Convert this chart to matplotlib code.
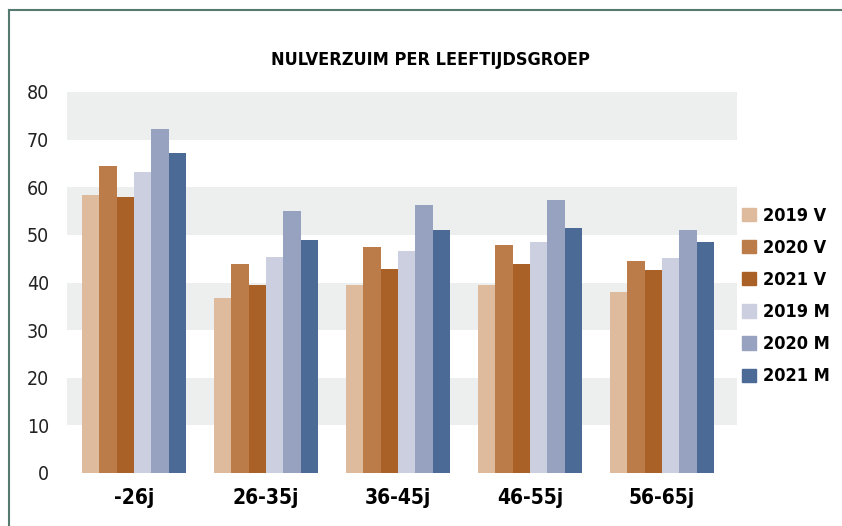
import numpy as np
import matplotlib
matplotlib.use("Agg")
import matplotlib.pyplot as plt
from matplotlib.lines import Line2D
from matplotlib.patches import Patch

# data
groups = ["-26j", "26-35j", "36-45j", "46-55j", "56-65j"]
series = ["2019 V", "2020 V", "2021 V", "2019 M", "2020 M", "2021 M"]
v2019 = [58.4, 36.8, 39.5, 39.5, 38.0]
v2020 = [64.5, 43.9, 47.5, 47.9, 44.5]
v2021 = [58.0, 39.5, 42.9, 43.9, 42.6]
m2019 = [63.2, 45.4, 46.6, 48.5, 45.2]
m2020 = [72.3, 55.0, 56.3, 57.4, 51.1]
m2021 = [67.2, 48.9, 51.1, 51.5, 48.5]
colors = ["#dfbb9d", "#bc7c4a", "#aa6127", "#cccfe0", "#97a1c0", "#4c6a96"]

plt.rcParams['font.family'] = ['DejaVu Sans']

fig = plt.figure(figsize=(8.42, 5.26), dpi=100)
ax = fig.add_axes([67/842, 53/526, 670/842, 381/526])

# grey bands
for lo in [10, 30, 50, 70]:
    ax.axhspan(lo, lo + 10, color="#edefee", zorder=0, lw=0)

x = np.arange(len(groups))
w = 0.1313
data = [v2019, v2020, v2021, m2019, m2020, m2021]
for i, vals in enumerate(data):
    ax.bar(x + (i - 2.5) * w, vals, w, color=colors[i], zorder=2, linewidth=0)

ax.set_xlim(-0.508, 4.568)
ax.set_ylim(0, 80)
ax.set_yticks(range(0, 81, 10))
ax.set_xticks(x)
ax.set_xticklabels(groups, fontsize=15, fontweight="bold", fontstretch="condensed")
ax.tick_params(axis="x", length=0, pad=11)
ax.tick_params(axis="y", length=0, pad=13, labelsize=14, labelcolor="#222222")
for lab in ax.get_yticklabels():
    lab.set_fontstretch("condensed")
for s in ax.spines.values():
    s.set_visible(False)

fig.text(0.511, 0.886, "NULVERZUIM PER LEEFTIJDSGROEP", ha="center", va="center",
         fontsize=13, fontweight="bold", fontstretch="condensed")

handles = [Patch(color=c) for c in colors]
fig.legend(handles, series, loc="upper left", bbox_to_anchor=(742/842, 1 - 207/526),
           frameon=False, prop={"weight": "bold", "size": 13, "stretch": "condensed"},
           handlelength=0.75, handleheight=0.75, handletextpad=0.4, labelspacing=0.78,
           borderpad=0, borderaxespad=0)

# frame lines
fig.add_artist(Line2D([9/842, 9/842], [0, 1 - 10/526], color="#557a6f", lw=1.5))
fig.add_artist(Line2D([9/842, 1], [1 - 10/526, 1 - 10/526], color="#557a6f", lw=1.5))

fig.savefig("out.png", dpi=100)
